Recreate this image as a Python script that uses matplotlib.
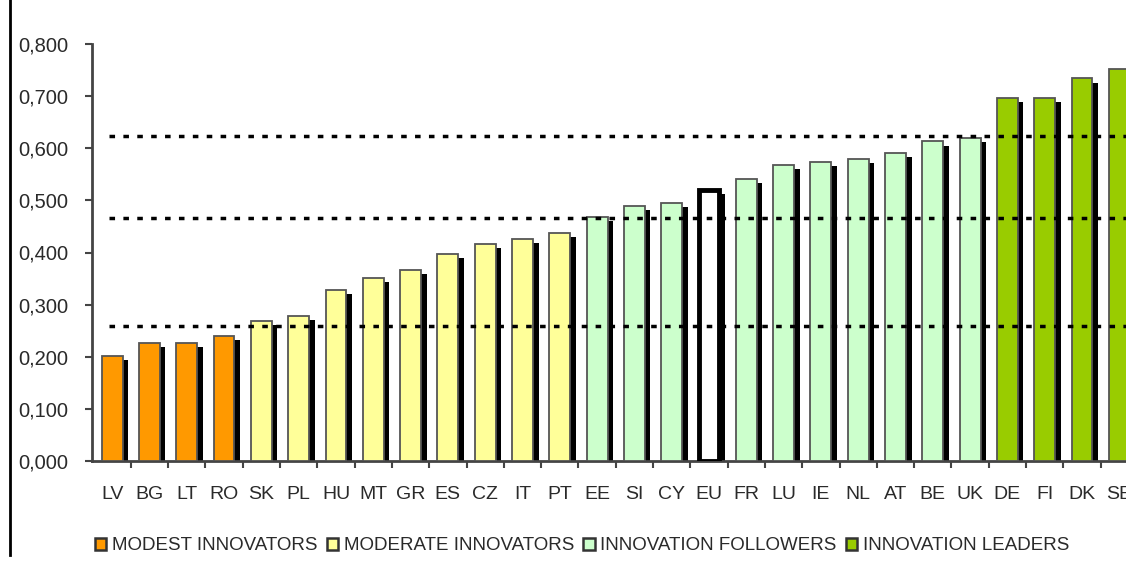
import matplotlib
matplotlib.use("Agg")
import matplotlib.pyplot as plt
from matplotlib.lines import Line2D
from matplotlib.patches import Patch

countries = ["LV", "BG", "LT", "RO", "SK", "PL", "HU", "MT", "GR", "ES", "CZ", "IT", "PT",
             "EE", "SI", "CY", "EU", "FR", "LU", "IE", "NL", "AT", "BE", "UK",
             "DE", "FI", "DK", "SE"]
scores = [0.201, 0.227, 0.227, 0.240,
          0.269, 0.278, 0.328, 0.351, 0.367, 0.397, 0.416, 0.426, 0.438,
          0.468, 0.489, 0.495, 0.520, 0.541, 0.568, 0.574, 0.580, 0.591, 0.613, 0.620,
          0.696, 0.696, 0.734, 0.752]
groups = ["modest"] * 4 + ["moderate"] * 9 + ["follower"] * 3 + ["eu"] + ["follower"] * 7 + ["leader"] * 4
thresholds = [0.259, 0.467, 0.624]

group_colors = {"modest": "#FF9900", "moderate": "#FFFF99", "follower": "#CCFFCC",
                "leader": "#99CC00", "eu": "#FFFFFF"}
legend_items = [("MODEST INNOVATORS", "modest"), ("MODERATE INNOVATORS", "moderate"),
                ("INNOVATION FOLLOWERS", "follower"), ("INNOVATION LEADERS", "leader")]

plt.rcParams["font.family"] = ["Liberation Sans", "DejaVu Sans"]

fig = plt.figure(figsize=(11.26, 5.61), dpi=100)
ax = fig.add_axes([92 / 1126, 100 / 561, 1034 / 1126, 417 / 561])

x = list(range(len(countries)))
width = 0.56

# drop shadows first, then the bars themselves
ax.bar([i + 0.15 for i in x], [v - 0.008 for v in scores], width=width,
       color="black", zorder=2)
for i, v, g in zip(x, scores, groups):
    if g == "eu":
        ax.bar(i, v, width=width, color="white", edgecolor="black", linewidth=3.5, zorder=3)
    else:
        ax.bar(i, v, width=width, color=group_colors[g], edgecolor="#555555",
               linewidth=1.3, zorder=3)

for t in thresholds:
    ax.axhline(t, xmin=0.016, xmax=1, color="black", linewidth=2.5,
               linestyle=(0, (1.6, 2.4)), zorder=4)

ax.set_xlim(-0.54, 27.18)
ax.set_ylim(0, 0.8)
ax.set_yticks([0.1 * k for k in range(9)])
ax.set_yticklabels([f"{0.1 * k:.3f}".replace(".", ",") for k in range(9)],
                   fontsize=14.5, color="#2a2a2a")
ax.set_xticks([i + 0.5 for i in x[:-1]])
ax.set_xticklabels([])
ax.set_xticks(x, minor=True)
ax.set_xticklabels(countries, minor=True, fontsize=14, color="#2a2a2a")
ax.tick_params(axis="x", which="minor", length=0, pad=18)
ax.tick_params(axis="x", which="major", length=5, width=1.5, color="#444444")
ax.tick_params(axis="y", length=5, width=1.5, color="#444444", pad=12)

for side in ["top", "right"]:
    ax.spines[side].set_visible(False)
for side in ["left", "bottom"]:
    ax.spines[side].set_color("#444444")
    ax.spines[side].set_linewidth(2)

handles = [Patch(facecolor=group_colors[g], edgecolor="#333333", linewidth=1.8)
           for _, g in legend_items]
fig.legend(handles, [lab for lab, _ in legend_items], loc="center",
           bbox_to_anchor=(582 / 1126, 1 - 546 / 561), ncol=4, frameon=False,
           fontsize=13.5, handlelength=0.6, handleheight=0.6, handletextpad=0.3,
           columnspacing=0.5, labelcolor="#2a2a2a")

# vertical rule down the left edge
fig.add_artist(Line2D([10 / 1126, 10 / 1126], [6 / 561, 1], color="black", linewidth=2))

fig.savefig("out.png", dpi=100)
